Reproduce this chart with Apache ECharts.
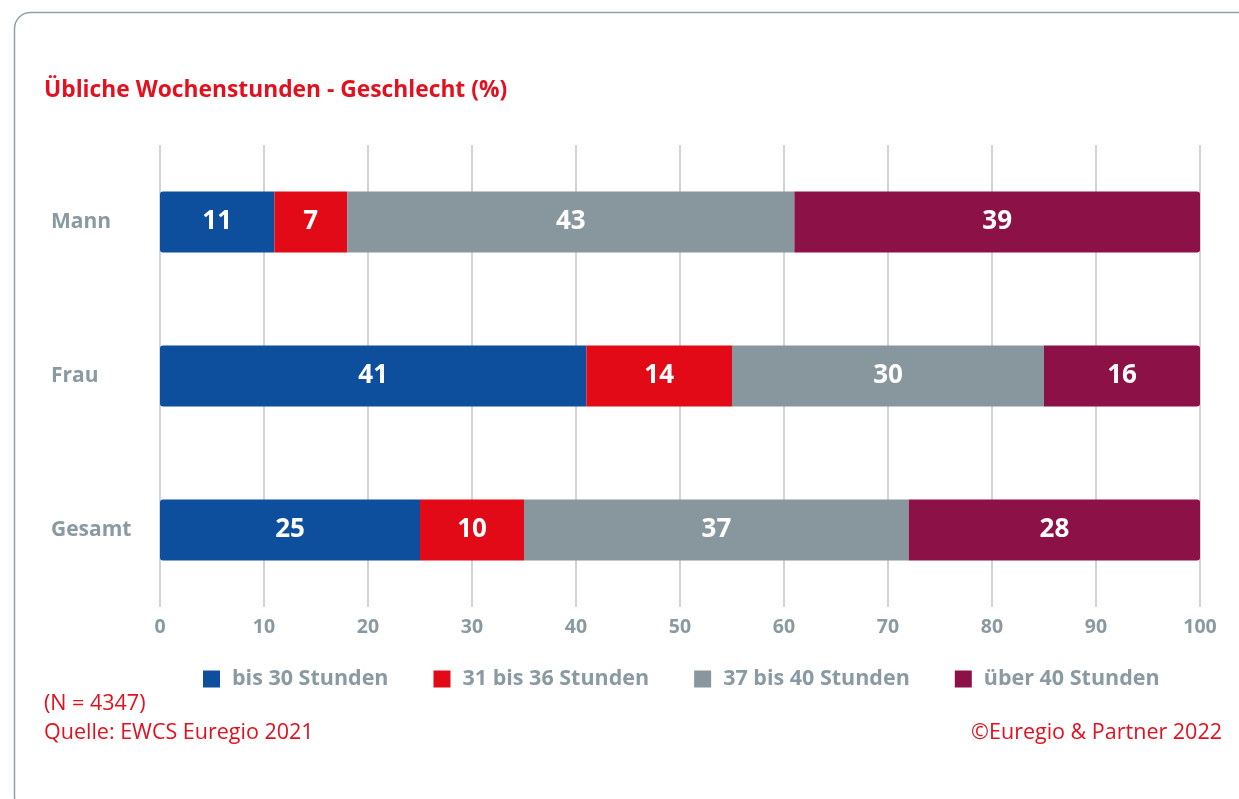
<!DOCTYPE html>
<html>
<head>
<meta charset="utf-8">
<script src="https://cdn.jsdelivr.net/npm/echarts@6/dist/echarts.min.js"></script>
<style>
  html, body { margin: 0; padding: 0; background: #fff; }
  #chart { width: 1239px; height: 799px; }
</style>
</head>
<body>
<div id="chart"></div>
<script>
// Kategorien und Werte (%)
const categories = ['Mann', 'Frau', 'Gesamt']
const seriesNames = ['bis 30 Stunden', '31 bis 36 Stunden', '37 bis 40 Stunden', 'über 40 Stunden']
const bis30 = [11, 41, 25]
const bis36 = [7, 14, 10]
const bis40 = [43, 30, 37]
const ueber40 = [39, 16, 28]
const xTicks = [0, 10, 20, 30, 40, 50, 60, 70, 80, 90, 100]

const colors = ['#0d4f9c', '#e20a17', '#87979d', '#8b1146']
const grey = '#8a9aa2'
const red = '#e3101f'
const font = '"Open Sans", "Noto Sans", sans-serif'

const values = [bis30, bis36, bis40, ueber40]
const radius = [[3, 0, 0, 3], [0, 0, 0, 0], [0, 0, 0, 0], [0, 3, 3, 0]]

var myChart = echarts.init(document.getElementById('chart'), null, { renderer: 'canvas' })

var option = {
  animation: false,
  textStyle: { fontFamily: font },
  title: {
    text: 'Übliche Wochenstunden - Geschlecht (%)',
    left: 44,
    top: 79,
    padding: 0,
    textStyle: { color: red, fontSize: 22.8, fontWeight: 'bold', fontFamily: font }
  },
  graphic: [
    {
      type: 'rect',
      shape: { x: 14.5, y: 12.5, width: 1260, height: 800, r: 16 },
      style: { fill: 'none', stroke: '#8fa0aa', lineWidth: 1.5 },
      z: -1
    },
    {
      type: 'text',
      left: 44,
      top: 693,
      style: { text: '(N = 4347)', fill: red, font: '21.5px ' + font }
    },
    {
      type: 'text',
      left: 44,
      top: 722,
      style: { text: 'Quelle: EWCS Euregio 2021', fill: red, font: '21.5px ' + font }
    },
    {
      type: 'text',
      right: 17,
      top: 722,
      style: { text: '©Euregio & Partner 2022', fill: red, font: '21.5px ' + font }
    }
  ],
  legend: {
    left: 198,
    top: 663,
    itemWidth: 17,
    itemHeight: 17,
    itemGap: 45,
    icon: 'rect',
    data: seriesNames,
    textStyle: { color: grey, fontSize: 21.5, fontWeight: 'bold', fontFamily: font, padding: [0, 0, 0, 7] }
  },
  grid: {
    left: 160,
    right: 39,
    top: 145,
    bottom: 192,
    containLabel: false
  },
  xAxis: {
    type: 'value',
    min: 0,
    max: 100,
    interval: 10,
    axisLine: { show: false },
    axisTick: { show: false },
    splitLine: { show: true, lineStyle: { color: '#d3d3d3', width: 2 } },
    axisLabel: {
      color: grey,
      fontSize: 19.5,
      fontWeight: 'bold',
      fontFamily: font,
      margin: 10,
      formatter: function (v) { return xTicks.indexOf(v) >= 0 ? String(v) : '' }
    }
  },
  yAxis: {
    type: 'category',
    inverse: true,
    data: categories,
    axisLine: { show: false },
    axisTick: { show: false },
    axisLabel: {
      color: grey,
      fontSize: 21,
      fontWeight: 'bold',
      fontFamily: font,
      align: 'left',
      margin: 109
    }
  },
  series: seriesNames.map(function (name, i) {
    return {
      name: name,
      type: 'bar',
      stack: 'total',
      barWidth: 61,
      data: values[i],
      itemStyle: { color: colors[i], borderRadius: radius[i] },
      label: {
        show: true,
        position: 'inside',
        color: '#fff',
        fontSize: 26,
        fontWeight: 'bold',
        fontFamily: font
      }
    }
  })
}

myChart.setOption(option, true)

window.addEventListener('resize', function () {
  myChart && myChart.resize()
})
</script>
</body>
</html>
